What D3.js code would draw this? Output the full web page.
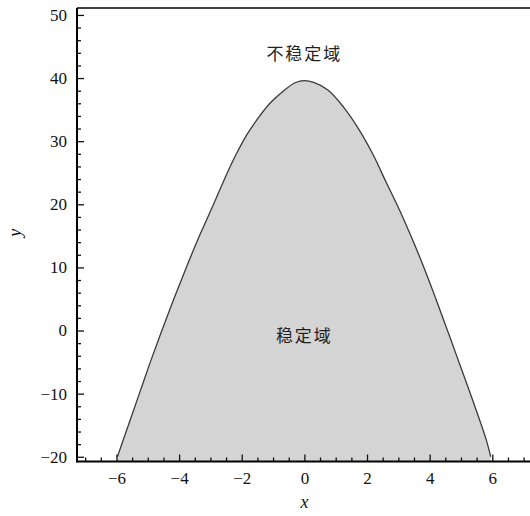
<!DOCTYPE html>
<html>
<head>
<meta charset="utf-8">
<script src="https://cdn.jsdelivr.net/npm/d3@7"></script>
<style>
  html, body { margin: 0; padding: 0; background: #fff; }
  svg { display: block; }
</style>
</head>
<body>
<svg id="chart" width="530" height="516"></svg>
<script>
// Boundary of the stable region (x, y)
const boundaryX = [-5.97, -5.62, -5.27, -4.92, -4.55, -4.17, -3.77, -3.35, -2.90, -2.46, -2.17, -1.84, -1.50, -1.10, -0.66, -0.28, 0.00,
                   0.30, 0.75, 1.25, 1.75, 2.20, 2.60, 3.00, 3.40, 3.80, 4.20, 4.60, 5.00, 5.40, 5.80, 5.95];
const boundaryY = [-20.0, -15.0, -10.0, -5.0, 0.0, 5.0, 10.0, 15.0, 20.0, 25.0, 28.0, 31.0, 33.5, 36.0, 38.0, 39.3, 39.6,
                   39.3, 38.1, 35.4, 31.8, 27.8, 23.6, 19.5, 15.0, 10.2, 5.0, -0.4, -5.9, -11.4, -17.2, -20.0];

const xMajorTicks = [-6, -4, -2, 0, 2, 4, 6];
const yMajorTicks = [-20, -10, 0, 10, 20, 30, 40, 50];

const regionLabels = [
  { text: "不稳定域", x: 0, y: 44.1 },
  { text: "稳定域",   x: 0, y: -0.6 }
];

const serif = "'Liberation Serif', 'Times New Roman', 'DejaVu Serif', serif";

const svg = d3.select("#chart");
const plotLeft = 77, plotRight = 528, plotTop = 8, plotBottom = 461.5;

const x = d3.scaleLinear().domain([-7.26, 7.14]).range([plotLeft, plotRight]);
const y = d3.scaleLinear().domain([-20.75, 51.1]).range([plotBottom, plotTop]);

const pts = boundaryX.map((v, i) => [v, boundaryY[i]]);
const smooth = d3.curveCatmullRom.alpha(0.5);

svg.append("clipPath").attr("id", "plot-clip")
  .append("rect").attr("x", plotLeft).attr("y", plotTop)
  .attr("width", plotRight - plotLeft).attr("height", plotBottom - plotTop);

const plot = svg.append("g").attr("clip-path", "url(#plot-clip)");

// Shaded stable region
plot.append("path")
  .datum(pts)
  .attr("fill", "#d4d4d4")
  .attr("d", d3.area().x(d => x(d[0])).y0(y.range()[0]).y1(d => y(d[1])).curve(smooth));

// Boundary curve
plot.append("path")
  .datum(pts)
  .attr("fill", "none")
  .attr("stroke", "#3a3a3a")
  .attr("stroke-width", 1.3)
  .attr("d", d3.line().x(d => x(d[0])).y(d => y(d[1])).curve(smooth));

// Region labels
svg.selectAll("text.region")
  .data(regionLabels)
  .join("text")
  .attr("class", "region")
  .attr("x", d => x(d.x))
  .attr("y", d => y(d.y))
  .attr("text-anchor", "middle")
  .attr("dominant-baseline", "central")
  .attr("font-family", "'Noto Sans CJK SC', sans-serif")
  .attr("font-size", 17)
  .attr("letter-spacing", 2)
  .attr("fill", "#222")
  .text(d => d.text);

// Minor tick positions
const xMinor = d3.range(-7, 7.01, 0.5).filter(v => !xMajorTicks.includes(v));
const yMinor = d3.range(-20, 51, 2).filter(v => !yMajorTicks.includes(v));

// X axis (ticks point into the plot)
const gx = svg.append("g").attr("transform", `translate(0,${plotBottom})`);
gx.call(d3.axisBottom(x).tickValues(xMajorTicks).tickSize(-7).tickPadding(10));
gx.select(".domain").remove();
const gxm = svg.append("g").attr("transform", `translate(0,${plotBottom})`);
gxm.call(d3.axisBottom(x).tickValues(xMinor).tickSize(-4).tickFormat(""));
gxm.select(".domain").remove();

// Y axis
const gy = svg.append("g").attr("transform", `translate(${plotLeft},0)`);
gy.call(d3.axisLeft(y).tickValues(yMajorTicks).tickSize(-7).tickPadding(10));
gy.select(".domain").remove();
const gym = svg.append("g").attr("transform", `translate(${plotLeft},0)`);
gym.call(d3.axisLeft(y).tickValues(yMinor).tickSize(-4).tickFormat(""));
gym.select(".domain").remove();

svg.selectAll(".tick line").attr("stroke", "#111").attr("stroke-width", 1.3);
[gx, gy].forEach(g => g.attr("font-family", serif).attr("font-size", 17)
  .selectAll("text").attr("font-family", serif).attr("font-size", 17).attr("fill", "#111"));

// Frame lines
svg.append("line").attr("x1", plotLeft).attr("x2", plotRight + 2).attr("y1", plotBottom).attr("y2", plotBottom)
  .attr("stroke", "#000").attr("stroke-width", 2);
svg.append("line").attr("x1", plotLeft).attr("x2", plotLeft).attr("y1", plotTop).attr("y2", plotBottom + 1)
  .attr("stroke", "#000").attr("stroke-width", 2);
svg.append("line").attr("x1", plotLeft).attr("x2", plotRight + 2).attr("y1", plotTop).attr("y2", plotTop)
  .attr("stroke", "#000").attr("stroke-width", 1.5);

// Axis titles
svg.append("text")
  .attr("x", x(0)).attr("y", 502)
  .attr("text-anchor", "middle").attr("dominant-baseline", "central")
  .attr("font-family", serif).attr("font-style", "italic")
  .attr("font-size", 18).attr("fill", "#111")
  .text("x");
svg.append("text")
  .attr("transform", `translate(15,${y(15.5)}) rotate(-90)`)
  .attr("text-anchor", "middle").attr("dominant-baseline", "central")
  .attr("font-family", serif).attr("font-style", "italic")
  .attr("font-size", 18).attr("fill", "#111")
  .text("y");
</script>
</body>
</html>
